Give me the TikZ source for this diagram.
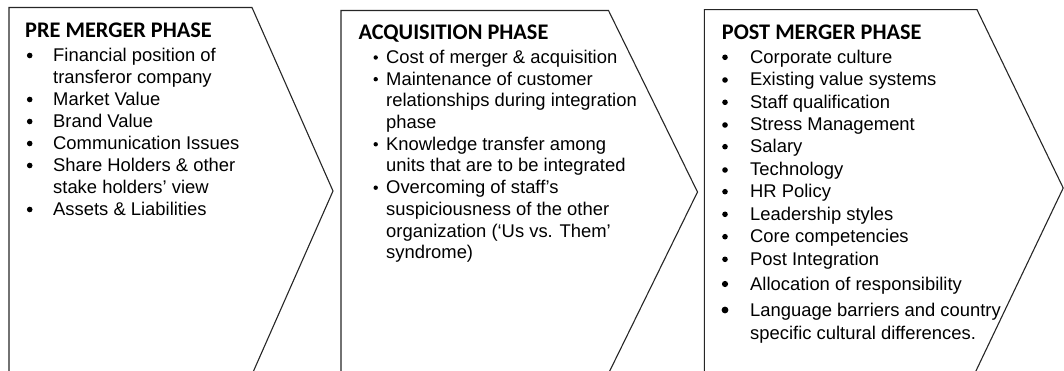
\documentclass[tikz,border=0pt]{standalone}
\usepackage{fontspec}
\setmainfont{Liberation Sans}
\newfontfamily\ttlfont{Carlito}
\tikzset{
  phase/.style={draw=black!85, line width=1.1pt, line join=miter},
  txt/.style={anchor=base west, inner sep=0pt, font=\fontsize{18.4}{22}\selectfont},
  ttl/.style={anchor=base west, inner sep=0pt, font=\ttlfont\bfseries\fontsize{22.3}{26}\selectfont},
  dotA/.style={circle, fill=black, inner sep=0pt, minimum size=5.6pt},
  dotB/.style={circle, fill=black, inner sep=0pt, minimum size=4.4pt},
}
\begin{document}
\begin{tikzpicture}[x=1pt,y=-1pt]
\useasboundingbox (0,0) rectangle (1064,371);
\begin{scope}
\clip (0,0) rectangle (1064,371);
\draw[phase] (9,7.5) -- (252,7.5) -- (333,191) -- (252,374.5) -- (9,374.5) -- cycle;
\draw[phase] (341,10.5) -- (608.5,10.5) -- (697.5,192) -- (608.5,373.5) -- (341,373.5) -- cycle;
\draw[phase] (704.3,9.7) -- (977,9.7) -- (1063.2,188) -- (974,375) -- (704.3,375) -- cycle;
\end{scope}

% Pre merger phase
\node[ttl] (t1) at (25,37.3) {PRE MERGER PHASE};
\node[dotA] (b11) at (29.7,55.5) {};
\node[txt] (a11) at (53,61.7) {Financial position of};
\node[txt] (a12) at (53,83.7) {transferor company};
\node[dotA] (b12) at (29.7,99.5) {};
\node[txt] (a13) at (53,105.7) {Market Value};
\node[dotA] (b13) at (29.7,121.5) {};
\node[txt] (a14) at (53,127.7) {Brand Value};
\node[dotA] (b14) at (29.7,143.5) {};
\node[txt] (a15) at (53,149.7) {Communication Issues};
\node[dotA] (b15) at (29.7,165.5) {};
\node[txt] (a16) at (53,171.7) {Share Holders \& other};
\node[txt] (a17) at (53,193.7) {stake holders’ view};
\node[dotA] (b16) at (29.7,209.5) {};
\node[txt] (a18) at (53,215.7) {Assets \& Liabilities};

% Acquisition phase
\node[ttl] (t2) at (358.3,40) {ACQUISITION PHASE};
\node[dotB] (b21) at (375.7,57.5) {};
\node[txt] (a21) at (386,63.5) {Cost of merger \& acquisition};
\node[dotB] (b22) at (375.7,79.2) {};
\node[txt] (a22) at (386,85.2) {Maintenance of customer};
\node[txt] (a23) at (386,106.9) {relationships during integration};
\node[txt] (a24) at (386,128.6) {phase};
\node[dotB] (b23) at (375.7,144.3) {};
\node[txt] (a25) at (386,150.3) {Knowledge transfer among};
\node[txt] (a26) at (386,172) {units that are to be integrated};
\node[dotB] (b24) at (375.7,187.7) {};
\node[txt] (a27) at (386,193.7) {Overcoming of staff’s};
\node[txt] (a28) at (386,215.4) {suspiciousness of the other};
\node[txt] (a29) at (386,237.1) {organization (‘Us vs. Them’};
\node[txt] (a2a) at (386,258.8) {syndrome)};

% Post merger phase
\node[ttl] (t3) at (721.7,40) {POST MERGER PHASE};
\node[dotA] (b31) at (725,57.3) {};
\node[txt] (a31) at (750,63.3) {Corporate culture};
\node[dotA] (b32) at (725,80) {};
\node[txt] (a32) at (750,86) {Existing value systems};
\node[dotA] (b33) at (725,102.3) {};
\node[txt] (a33) at (750,108.3) {Staff qualification};
\node[dotA] (b34) at (725,125) {};
\node[txt] (a34) at (750,131) {Stress Management};
\node[dotA] (b35) at (725,146.7) {};
\node[txt] (a35) at (750,152.7) {Salary};
\node[dotA] (b36) at (725,170) {};
\node[txt] (a36) at (750,176) {Technology};
\node[dotA] (b37) at (725,191.7) {};
\node[txt] (a37) at (750,197.7) {HR Policy};
\node[dotA] (b38) at (725,214.3) {};
\node[txt] (a38) at (750,220.3) {Leadership styles};
\node[dotA] (b39) at (725,236.7) {};
\node[txt] (a39) at (750,242.7) {Core competencies};
\node[dotA] (b3a) at (725,259.3) {};
\node[txt] (a3a) at (750,265.3) {Post Integration};
\node[dotA, minimum size=6.2pt] (b3b) at (725,284) {};
\node[txt] (a3b) at (750,290) {Allocation of responsibility};
\node[dotA, minimum size=6.8pt] (b3c) at (725,310) {};
\node[txt] (a3c) at (750,316) {Language barriers and country};
\node[txt] (a3d) at (750,339.3) {specific cultural differences.};
\end{tikzpicture}
\end{document}
